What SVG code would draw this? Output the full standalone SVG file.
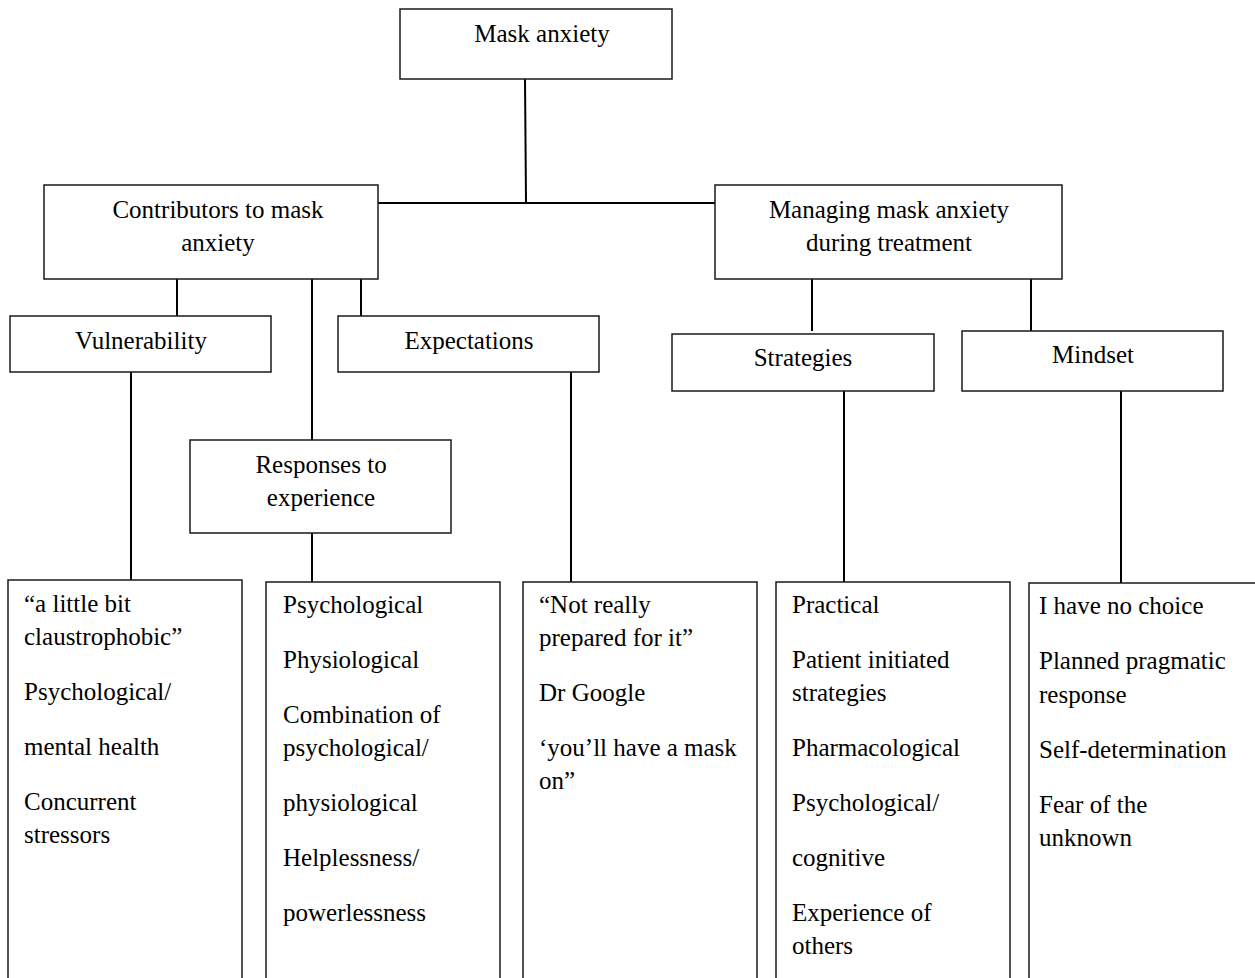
<svg xmlns="http://www.w3.org/2000/svg" width="1255" height="978" viewBox="0 0 1255 978">
<style>
.box{fill:#fff;stroke:#1a1a1a;stroke-width:1.5}
.ln{stroke:#000;stroke-width:2;fill:none}
text{font-family:"Liberation Serif","Times New Roman",serif;font-size:25px;fill:#000}
.c{text-anchor:middle}
</style>
<rect width="1255" height="978" fill="#fff"/>
<g id="connectors">
<line class="ln" x1="525" y1="79" x2="526" y2="202"/>
<line class="ln" x1="378" y1="203" x2="715" y2="203"/>
<line class="ln" x1="177" y1="279" x2="177" y2="316"/>
<line class="ln" x1="312" y1="279" x2="312" y2="440"/>
<line class="ln" x1="361" y1="279" x2="361" y2="316"/>
<line class="ln" x1="131" y1="372" x2="131" y2="580"/>
<line class="ln" x1="312" y1="533" x2="312" y2="582"/>
<line class="ln" x1="571" y1="372" x2="571" y2="582"/>
<line class="ln" x1="812" y1="279" x2="812" y2="331"/>
<line class="ln" x1="1031" y1="279" x2="1031" y2="331"/>
<line class="ln" x1="844" y1="391" x2="844" y2="582"/>
<line class="ln" x1="1121" y1="391" x2="1121" y2="583"/>
</g>
<g id="mask-anxiety">
<rect class="box" x="400" y="9" width="272" height="70"/>
<text class="c" x="542" y="42">Mask anxiety</text>
</g>
<g id="contributors">
<rect class="box" x="44" y="185" width="334" height="94"/>
<text class="c" x="218" y="218">Contributors to mask</text>
<text class="c" x="218" y="251">anxiety</text>
</g>
<g id="managing">
<rect class="box" x="715" y="185" width="347" height="94"/>
<text class="c" x="889" y="218">Managing mask anxiety</text>
<text class="c" x="889" y="251">during treatment</text>
</g>
<g id="vulnerability">
<rect class="box" x="10" y="316" width="261" height="56"/>
<text class="c" x="141" y="349">Vulnerability</text>
</g>
<g id="expectations">
<rect class="box" x="338" y="316" width="261" height="56"/>
<text class="c" x="469" y="349">Expectations</text>
</g>
<g id="responses">
<rect class="box" x="190" y="440" width="261" height="93"/>
<text class="c" x="321" y="473">Responses to</text>
<text class="c" x="321" y="506">experience</text>
</g>
<g id="strategies">
<rect class="box" x="672" y="334" width="262" height="57"/>
<text class="c" x="803" y="366">Strategies</text>
</g>
<g id="mindset">
<rect class="box" x="962" y="331" width="261" height="60"/>
<text class="c" x="1093" y="363">Mindset</text>
</g>
<g id="vulnerability-items">
<rect class="box" x="8" y="580" width="234" height="410"/>
<text x="24" y="612">“a little bit</text>
<text x="24" y="645">claustrophobic”</text>
<text x="24" y="700">Psychological/</text>
<text x="24" y="755">mental health</text>
<text x="24" y="810">Concurrent</text>
<text x="24" y="843">stressors</text>
</g>
<g id="responses-items">
<rect class="box" x="266" y="582" width="234" height="410"/>
<text x="283" y="613">Psychological</text>
<text x="283" y="668">Physiological</text>
<text x="283" y="723">Combination of</text>
<text x="283" y="756">psychological/</text>
<text x="283" y="811">physiological</text>
<text x="283" y="866">Helplessness/</text>
<text x="283" y="921">powerlessness</text>
</g>
<g id="expectations-items">
<rect class="box" x="523" y="582" width="234" height="410"/>
<text x="539" y="613">“Not really</text>
<text x="539" y="646">prepared for it”</text>
<text x="539" y="701">Dr Google</text>
<text x="539" y="756">‘you’ll have a mask</text>
<text x="539" y="789">on”</text>
</g>
<g id="strategies-items">
<rect class="box" x="776" y="582" width="234" height="410"/>
<text x="792" y="613">Practical</text>
<text x="792" y="668">Patient initiated</text>
<text x="792" y="701">strategies</text>
<text x="792" y="756">Pharmacological</text>
<text x="792" y="811">Psychological/</text>
<text x="792" y="866">cognitive</text>
<text x="792" y="921">Experience of</text>
<text x="792" y="954">others</text>
</g>
<g id="mindset-items">
<rect class="box" x="1029" y="583" width="240" height="410"/>
<text x="1039" y="614">I have no choice</text>
<text x="1039" y="669">Planned pragmatic</text>
<text x="1039" y="703">response</text>
<text x="1039" y="758">Self-determination</text>
<text x="1039" y="813">Fear of the</text>
<text x="1039" y="846">unknown</text>
</g>
</svg>
